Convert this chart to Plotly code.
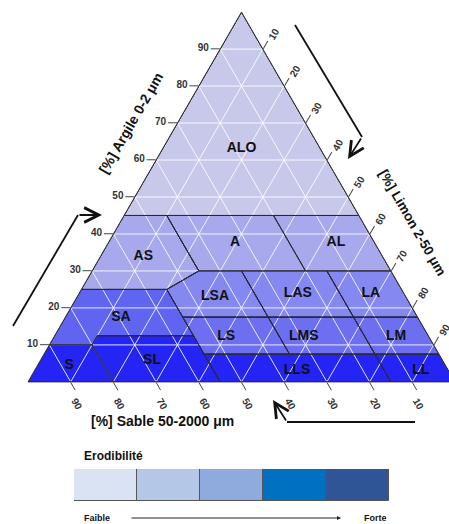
import plotly.graph_objects as go

W, H = 470, 524

# ---------------- data ----------------
classes = ["ALO", "AS", "A", "AL", "LSA", "LAS", "LA", "SA", "LS", "LMS", "LM",
           "S", "SL", "LLS", "LL"]
# polygon vertices: clay (%) and sand (%) ; silt = rest
poly_clay = [
    [100, 45, 45],
    [45, 45, 30, 25, 25],
    [45, 45, 30, 30],
    [45, 45, 30, 30],
    [30, 30, 17.5, 17.5, 25],
    [30, 30, 17.5, 17.5],
    [30, 30, 17.5, 17.5],
    [25, 25, 12.5, 12.5, 10, 10],
    [17.5, 17.5, 7.5, 7.5],
    [17.5, 17.5, 7.5, 7.5],
    [17.5, 17.5, 7.5, 7.5],
    [10, 10, 0, 0],
    [12.5, 12.5, 0, 0, 10],
    [7.5, 7.5, 0, 0],
    [7.5, 7.5, 0, 0],
]
poly_sand = [
    [0, 55, 0],
    [55, 45, 45, 55, 75],
    [45, 20, 20, 45],
    [20, 0, 0, 20],
    [45, 35, 35, 55, 55],
    [35, 15, 15, 35],
    [15, 0, 0, 15],
    [75, 55, 55, 77.5, 80, 90],
    [55, 35, 35, 55],
    [35, 15, 15, 35],
    [15, 0, 0, 15],
    [90, 80, 80, 100],
    [77.5, 55, 55, 80, 80],
    [55, 15, 15, 55],
    [15, 0, 0, 15],
]
class_colors = ["#c8c9ea", "#a7a9ec", "#a7a9ec", "#a7a9ec",
                "#8588f0", "#8588f0", "#8588f0",
                "#5f64f1", "#6c70f0", "#6c70f0", "#6c70f0",
                "#2424f4", "#2424f4", "#2424f4", "#2424f4"]
# label positions (clay, sand)
label_clay = [63, 34, 37.6, 37.6, 23, 23.8, 23.8, 17.3, 12.4, 12.4, 12.4, 4.3, 5.9, 3.2, 3.2]
label_sand = [18.5, 56, 32.7, 9.1, 44.7, 24.9, 7.8, 69.6, 47.4, 29.2, 7.6, 88.2, 68, 35.4, 6.4]

tick_vals = [10, 20, 30, 40, 50, 60, 70, 80, 90]

erod_levels = ["1", "2", "3", "4", "5"]
erod_colors = ["#dae3f3", "#b4c7e7", "#8faadc", "#0070c0", "#2f5597"]

FONT = "Liberation Sans, Arial, sans-serif"

# ---------------- figure ----------------
fig = go.Figure()

for name, ca, sa, col in zip(classes, poly_clay, poly_sand, class_colors):
    si = [100 - x - y for x, y in zip(ca, sa)]
    fig.add_trace(go.Scatterternary(
        a=ca + [ca[0]], b=sa + [sa[0]], c=si + [si[0]],
        mode="lines", fill="toself", fillcolor=col,
        line=dict(color="#2a2a3a", width=1),
        hoverinfo="skip", showlegend=False, name=name))

# white grid lines
GRID = dict(color="rgba(255,255,255,0.85)", width=1)
for v in tick_vals:
    fig.add_trace(go.Scatterternary(a=[v, v], b=[100 - v, 0], c=[0, 100 - v], mode="lines",
                                    line=GRID, hoverinfo="skip", showlegend=False))
    fig.add_trace(go.Scatterternary(b=[v, v], a=[100 - v, 0], c=[0, 100 - v], mode="lines",
                                    line=GRID, hoverinfo="skip", showlegend=False))
    fig.add_trace(go.Scatterternary(c=[v, v], a=[100 - v, 0], b=[0, 100 - v], mode="lines",
                                    line=GRID, hoverinfo="skip", showlegend=False))

# class boundaries redrawn on top of grid
for ca, sa in zip(poly_clay, poly_sand):
    si = [100 - x - y for x, y in zip(ca, sa)]
    fig.add_trace(go.Scatterternary(
        a=ca + [ca[0]], b=sa + [sa[0]], c=si + [si[0]], mode="lines",
        line=dict(color="#2a2a3a", width=1), hoverinfo="skip", showlegend=False))

fig.add_trace(go.Scatterternary(
    a=label_clay, b=label_sand, c=[100 - x - y for x, y in zip(label_clay, label_sand)],
    mode="text", text=classes,
    textfont=dict(family=FONT, size=14, color="#111111", weight="bold"),
    hoverinfo="skip", showlegend=False))

# erodibility scale
fig.add_trace(go.Bar(x=list(range(len(erod_levels))), y=[1] * len(erod_levels), width=1,
                     marker=dict(color=erod_colors, line=dict(color="#555555", width=1)),
                     xaxis="x", yaxis="y", hoverinfo="skip", showlegend=False,
                     cliponaxis=False))

axis_common = dict(min=0, tickmode="array", tickvals=tick_vals, ticks="outside", ticklen=9,
                   tickcolor="#444444", tickwidth=1, showgrid=False,
                   linecolor="#333333", linewidth=1,
                   tickfont=dict(family=FONT, size=10, color="#333333", weight="bold"),
                   title=dict(text=""))


def px(x):
    return x / W


def py(y):
    return 1 - y / H


fig.update_layout(
    width=W, height=H,
    margin=dict(l=0, r=0, t=0, b=0),
    paper_bgcolor="white", plot_bgcolor="white",
    ternary=dict(
        sum=100,
        domain=dict(x=[px(28), px(455)], y=[py(382), py(12)]),
        bgcolor="white",
        aaxis=dict(axis_common, tickangle=0),
        baxis=dict(axis_common, tickangle=60),
        caxis=dict(axis_common, tickangle=-60),
    ),
    xaxis=dict(domain=[px(74), px(389)], range=[-0.5, 4.5], visible=False, fixedrange=True),
    yaxis=dict(domain=[py(501), py(469)], range=[0, 1], visible=False, fixedrange=True),
    bargap=0,
    showlegend=False,
)

annotations = [
    dict(text="[%] Argile 0-2 μm", x=px(131), y=py(123), textangle=-60,
         font=dict(family=FONT, size=14, color="#111111", weight="bold")),
    dict(text="[%] Limon 2-50 μm", x=px(412), y=py(223), textangle=60,
         font=dict(family=FONT, size=13.5, color="#111111", weight="bold")),
    dict(text="[%] Sable 50-2000 μm", x=px(162), y=py(421),
         font=dict(family=FONT, size=14, color="#111111", weight="bold")),
    dict(text="Erodibilité", x=px(82), y=py(456), xanchor="left",
         font=dict(family=FONT, size=12, color="#111111", weight="bold")),
    dict(text="Faible", x=px(82), y=py(518), xanchor="left",
         font=dict(family=FONT, size=9, color="#111111", weight="bold")),
    dict(text="Forte", x=px(389), y=py(518), xanchor="right",
         font=dict(family=FONT, size=9, color="#111111", weight="bold")),
    # arrow heads
    dict(x=px(102), y=py(215), ax=-24, ay=0, text="", showarrow=True,
         arrowhead=5, arrowsize=1.6, arrowwidth=1.8, arrowcolor="#111111"),
    dict(x=px(348), y=py(159), ax=14, ay=-22, text="", showarrow=True,
         arrowhead=5, arrowsize=1.6, arrowwidth=1.8, arrowcolor="#111111"),
    dict(x=px(273), y=py(400), ax=14, ay=22, text="", showarrow=True,
         arrowhead=5, arrowsize=1.6, arrowwidth=1.8, arrowcolor="#111111"),
    dict(x=px(341), y=py(518), ax=-211, ay=0, text="", showarrow=True,
         arrowhead=2, arrowsize=0.8, arrowwidth=1, arrowcolor="#222222"),
]
for a in annotations:
    a.setdefault("xref", "paper")
    a.setdefault("yref", "paper")
    a.setdefault("showarrow", False)
    a.setdefault("xanchor", "center")
    a.setdefault("yanchor", "middle")
fig.update_layout(annotations=annotations)

shapes = [
    dict(type="line", x0=px(13), y0=py(326), x1=px(78), y1=py(215)),
    dict(type="line", x0=px(295), y0=py(25), x1=px(362), y1=py(137)),
    dict(type="line", x0=px(415), y0=py(422), x1=px(287), y1=py(422)),
]
for s in shapes:
    s.update(xref="paper", yref="paper", line=dict(color="#111111", width=1.8))
fig.update_layout(shapes=shapes)

fig.write_html("out.html",
               config={"displayModeBar": False},
               post_script="document.body.style.margin='0';"
                           "document.documentElement.style.overflow='hidden';"
                           "document.body.style.overflow='hidden';")
